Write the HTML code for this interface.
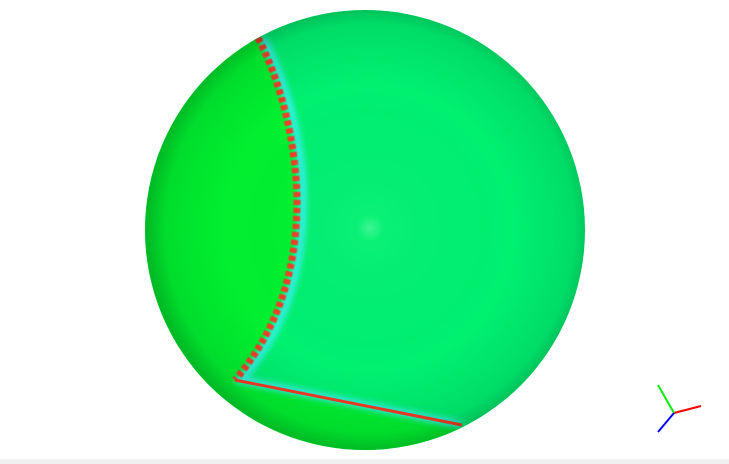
<!DOCTYPE html>
<html><head><meta charset="utf-8"><style>
html,body{margin:0;padding:0;background:#fff;width:729px;height:464px;overflow:hidden}
</style></head><body>
<svg width="729" height="464" viewBox="0 0 729 464" xmlns="http://www.w3.org/2000/svg">
<defs>
<clipPath id="sc"><circle cx="365" cy="230" r="220"/></clipPath>
<radialGradient id="shade" cx="370" cy="228" r="222" gradientUnits="userSpaceOnUse">
<stop offset="0" stop-color="#fff" stop-opacity="0.25"/>
<stop offset="0.06" stop-color="#fff" stop-opacity="0.04"/>
<stop offset="0.65" stop-color="#000" stop-opacity="0"/>
<stop offset="0.92" stop-color="#000" stop-opacity="0.08"/>
<stop offset="1" stop-color="#000" stop-opacity="0.22"/>
</radialGradient>
<filter id="blur"><feGaussianBlur stdDeviation="3"/></filter>
<filter id="blur1"><feGaussianBlur stdDeviation="0.6"/></filter>
</defs>
<rect x="0" y="459" width="729" height="5" fill="#f0f0f0"/>
<g clip-path="url(#sc)">
<rect x="140" y="5" width="450" height="450" fill="#00f070"/>
<path d="M258,38 C280,80 298,140 298,200 C298,270 280,330 235,380 L462,425 L600,470 L100,470 L100,0 L250,0 Z" fill="#00f030"/>
<path d="M263,38 C285,80 303,140 303,200 C303,270 285,330 241,380 L462,425" fill="none" stroke="#30f0e0" stroke-width="8" filter="url(#blur)"/>
<path d="M258,38 C280,80 296,140 297,200 C297,270 278,330 235,380" fill="none" stroke="#f03c28" stroke-width="7" stroke-dasharray="5 3" filter="url(#blur1)"/>
<path d="M235,380 L462,425" fill="none" stroke="#f03c28" stroke-width="3"/>
<circle cx="365" cy="230" r="220" fill="url(#shade)"/>
</g>
<g stroke-width="2">
<line x1="674" y1="413" x2="701" y2="406" stroke="#f00"/>
<line x1="674" y1="413" x2="658" y2="385" stroke="#0e0"/>
<line x1="674" y1="413" x2="658" y2="432" stroke="#00f"/>
</g>
</svg>
</body></html>
